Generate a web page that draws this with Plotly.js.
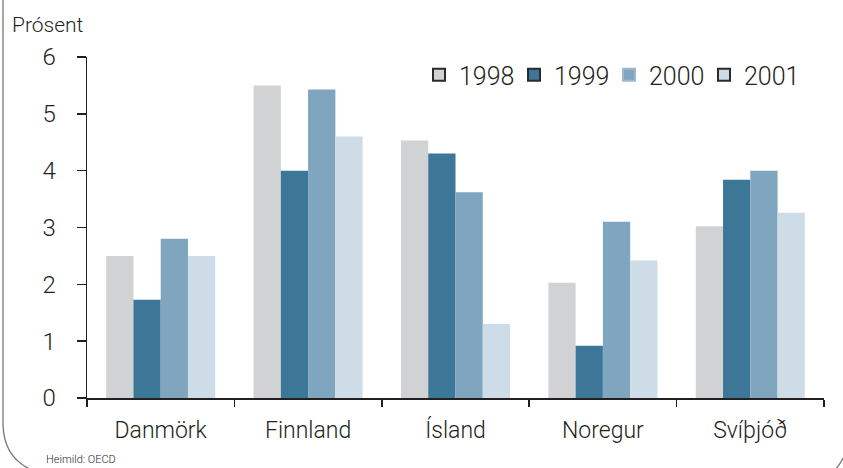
<!DOCTYPE html>
<html>
<head>
<meta charset="utf-8">
<script src="https://cdn.plot.ly/plotly-3.0.1.min.js"></script>
<style>html,body{margin:0;padding:0;background:#fff;}#chart{width:843px;height:468px;}</style>
</head>
<body>
<div id="chart"></div>
<script>
const categories = ["Danmörk", "Finnland", "Ísland", "Noregur", "Svíþjóð"];
const seriesNames = ["1998", "1999", "2000", "2001"];
const v1998 = [2.50, 5.50, 4.53, 2.03, 3.02];
const v1999 = [1.73, 4.00, 4.30, 0.92, 3.84];
const v2000 = [2.80, 5.43, 3.62, 3.10, 4.00];
const v2001 = [2.50, 4.60, 1.30, 2.42, 3.26];
const yTicks = [0, 1, 2, 3, 4, 5, 6];

const colors = ["#d1d2d4", "#3d7797", "#80a5bf", "#cddce6"];
const values = [v1998, v1999, v2000, v2001];
const txt = "#231f20";
const FONT = "Roboto, 'DejaVu Sans', sans-serif";
const WT = 300;

const W = 843, H = 468, L = 87, R = 19, T = 57, B = 70;
const pw = W - L - R, ph = H - T - B;
const px = x => (x - L) / pw;
const py = y => (H - B - y) / ph;

const traces = values.map((v, i) => ({
  type: "bar", x: categories, y: v, name: seriesNames[i],
  marker: {color: colors[i], line: {width: 0}},
  showlegend: false, hoverinfo: "x+y+name"
}));
// legend entries (outlined squares), no visible marks
seriesNames.forEach((n, i) => traces.push({
  type: "bar", x: [categories[0]], y: [null], name: n, xaxis: "x2", yaxis: "y2",
  marker: {color: colors[i], line: {color: i === 2 ? "#9fb8cb" : "#2b2b2b", width: 2}},
  showlegend: true
}));

const frame = "M " + px(3) + " " + py(-5) + " L " + px(3) + " " + py(425) +
  " Q " + px(4) + " " + py(458) + " " + px(32) + " " + py(470);

const layout = {
  width: W, height: H,
  margin: {l: L, r: R, t: T, b: B},
  paper_bgcolor: "#ffffff", plot_bgcolor: "#ffffff",
  font: {family: FONT, color: txt, size: 23, weight: WT},
  barmode: "group", bargap: 0.26, bargroupgap: 0,
  xaxis: {
    type: "category", showline: true, linecolor: "#231f20", linewidth: 1.5,
    ticks: "outside", tickson: "boundaries", ticklen: 7, tickwidth: 1.5, tickcolor: "#231f20",
    tickfont: {size: 23, family: FONT, color: txt, weight: WT}, showgrid: false, zeroline: false,
    ticklabelstandoff: 11
  },
  yaxis: {
    range: [0, 6], tickvals: yTicks, ticktext: yTicks.map(String),
    showline: true, linecolor: "#231f20", linewidth: 1.5,
    ticks: "outside", ticklen: 9, tickwidth: 1.5, tickcolor: "#231f20",
    tickfont: {size: 24, family: FONT, color: txt, weight: WT}, showgrid: false, zeroline: false,
    ticklabelstandoff: 16
  },
  xaxis2: {visible: false, overlaying: "x", type: "category"},
  yaxis2: {visible: false, overlaying: "y", range: [0, 1]},
  legend: {
    orientation: "h", x: px(419), y: py(75), xanchor: "left", yanchor: "middle",
    font: {size: 25, family: FONT, color: txt, weight: WT}, bgcolor: "rgba(0,0,0,0)",
    itemwidth: 30, tracegroupgap: 0, traceorder: "normal",
    entrywidth: 50, entrywidthmode: "pixels"
  },
  annotations: [
    {text: "Prósent", xref: "paper", yref: "paper", x: px(10), y: py(25), xanchor: "left", yanchor: "middle",
     showarrow: false, font: {size: 21, family: FONT, color: txt, weight: WT}},
    {text: "Heimild: OECD", xref: "paper", yref: "paper", x: px(44), y: py(459), xanchor: "left", yanchor: "middle",
     showarrow: false, font: {size: 11, family: FONT, color: txt, weight: WT}}
  ],
  shapes: [
    {type: "path", xref: "paper", yref: "paper", path: frame, line: {color: "#777777", width: 1.3}},
    {type: "path", xref: "paper", yref: "paper",
     path: "M " + px(835) + " " + py(470) + " Q " + px(842) + " " + py(462) + " " + px(846) + " " + py(452),
     line: {color: "#777777", width: 1.3}}
  ]
};

Plotly.newPlot("chart", traces, layout, {displayModeBar: false, staticPlot: true});
</script>
</body>
</html>
